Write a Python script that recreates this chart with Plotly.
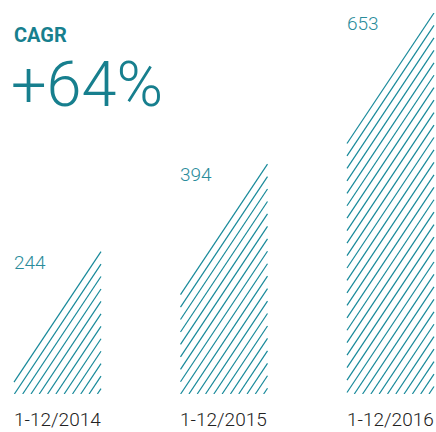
import plotly.graph_objects as go

# Revenue totals per period
periods = ["1-12/2014", "1-12/2015", "1-12/2016"]
values = [244, 394, 653]
cagr_label = "CAGR"
cagr_value = "+64%"

W, H = 436, 432
MARGIN_T, MARGIN_B = 13, 38
PLOT_H = H - MARGIN_T - MARGIN_B
Y_MAX = max(values)
PX_PER_Y = PLOT_H / Y_MAX

# x axis: one unit per category
PX_PER_X = 166.5
X_MIN = -0.3453
X_MAX = X_MIN + W / PX_PER_X
BAR_W = 87 / PX_PER_X  # bar width in category units

LINE_COLOR = "#17899a"
TEXT_TEAL = "#2a8c9b"
SLOPE = 1.5       # hatch rise per pixel of run
STEP_X = 8.3      # horizontal spacing between hatch lines, px


def hatch_segments(i, value):
    """Diagonal hatch lines filling a bar whose top-left corner is cut along the hatch."""
    left_px = (i - BAR_W / 2 - X_MIN) * PX_PER_X
    right_px = left_px + BAR_W * PX_PER_X
    top_px = value * PX_PER_Y  # height above baseline in px
    dv = SLOPE * STEP_X
    xs, ys = [], []
    k = 0
    while top_px - k * dv > 0:
        y_right = top_px - k * dv
        # x where this line meets the baseline
        x_base = right_px - y_right / SLOPE
        if x_base >= left_px:
            x0, y0 = x_base, 0.0
        else:
            x0, y0 = left_px, y_right - SLOPE * (right_px - left_px)
        for xp, yp in ((x0, y0), (right_px, y_right)):
            xs.append(xp / PX_PER_X + X_MIN)
            ys.append(yp / PX_PER_Y)
        xs.append(None)
        ys.append(None)
        k += 1
    return xs, ys


fig = go.Figure()
for i, v in enumerate(values):
    hx, hy = hatch_segments(i, v)
    fig.add_trace(go.Scatter(
        x=hx, y=hy, mode="lines",
        line=dict(color=LINE_COLOR, width=1.2),
        hoverinfo="skip", showlegend=False,
    ))

annotations = []
for i, (p, v) in enumerate(zip(periods, values)):
    left = i - BAR_W / 2
    annotations.append(dict(
        x=left, y=v, xref="x", yref="y", text=str(v), showarrow=False,
        xanchor="left", yanchor="top", xshift=-2, yshift=3,
        font=dict(family="Roboto", size=19, color=TEXT_TEAL, weight=300),
    ))
    annotations.append(dict(
        x=left, y=0, xref="x", yref="y", text=p, showarrow=False,
        xanchor="left", yanchor="top", xshift=-2, yshift=-12,
        font=dict(family="Roboto", size=19, color="#222222", weight=300),
    ))

annotations.append(dict(
    x=X_MIN + 12 / PX_PER_X, y=1, xref="x", yref="paper", yshift=-8,
    text="<b>%s</b>" % cagr_label, showarrow=False,
    xanchor="left", yanchor="top",
    font=dict(family="Roboto", size=20, color="#177f8e"),
))
annotations.append(dict(
    x=X_MIN + 9 / PX_PER_X, y=1, xref="x", yref="paper", yshift=-33,
    text=cagr_value, showarrow=False,
    xanchor="left", yanchor="top",
    font=dict(family="Roboto", size=63, color="#177f8e", weight=300),
))

fig.update_layout(
    width=W, height=H,
    margin=dict(l=0, r=0, t=MARGIN_T, b=MARGIN_B),
    paper_bgcolor="white", plot_bgcolor="white",
    xaxis=dict(range=[X_MIN, X_MAX], visible=False, fixedrange=True),
    yaxis=dict(range=[0, Y_MAX], visible=False, fixedrange=True),
    annotations=annotations,
    showlegend=False,
)

fig.write_html("out.html", config={"displayModeBar": False})
